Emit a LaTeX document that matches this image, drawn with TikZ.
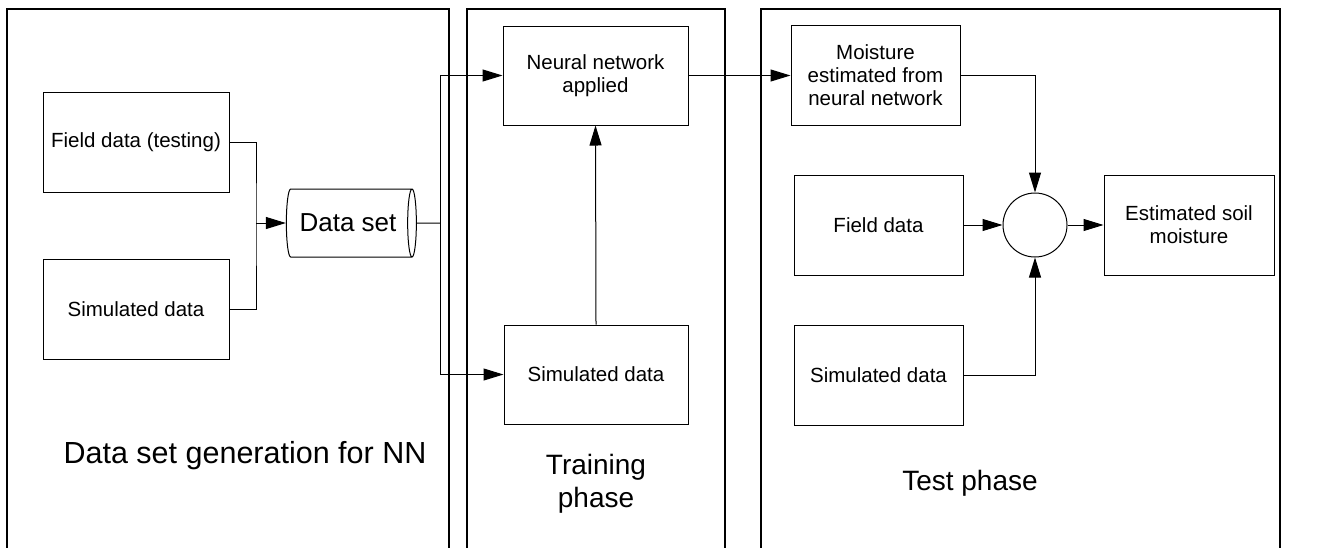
\documentclass[tikz,border=0pt]{standalone}
\usepackage{fontspec}
\setmainfont{Liberation Sans}
\usetikzlibrary{shapes,arrows.meta}
\tikzstyle{block} = [rectangle, draw, line width=1pt, align=center,
    font=\fontsize{20.5}{23}\selectfont, inner sep=2pt]
\tikzstyle{panel} = [draw, line width=2pt]
\tikzstyle{line} = [draw, line width=1pt, -{Triangle[length=20pt,width=12pt]}]
\tikzstyle{wire} = [draw, line width=1pt]
\tikzstyle{title} = [align=center, font=\fontsize{28}{33}\selectfont]

\begin{document}
\begin{tikzpicture}[x=1pt, y=-1pt, auto]
		\useasboundingbox (0,0) rectangle (1327,547);
		% the three phases
		\draw [panel] (7,9) rectangle (449,570);
		\draw [panel] (467,9) rectangle (725,570);
		\draw [panel] (761,9) rectangle (1280,570);

		% data set generation
		\node [block, minimum width=186pt, minimum height=100pt] (field) at (136,142) {Field data (testing)};
		\node [block, minimum width=186pt, minimum height=100pt] (simgen) at (136,309) {Simulated data};
		\node [cylinder, draw, line width=1pt, aspect=0.35, minimum width=68pt, minimum height=130pt,
			shape border rotate=0, font=\fontsize{26}{30}\selectfont] (dataset) at (348,223) {Data set};
		\node [title, font=\fontsize{30.5}{36}\selectfont] (gentitle) at (245,456) {Data set generation for NN};

		% training phase
		\node [block, minimum width=185pt, minimum height=99pt] (nn) at (595.5,75.5) {Neural network\\applied};
		\node [block, minimum width=184pt, minimum height=99pt] (simtrain) at (596,374.5) {Simulated data};
		\node [title] (traintitle) at (596,484) {Training\\phase};

		% test phase
		\node [block, minimum width=169pt, minimum height=100pt] (moist) at (875.5,75.5) {Moisture\\estimated from\\neural network};
		\node [block, minimum width=169pt, minimum height=100pt] (fieldtest) at (878.5,225) {Field data};
		\node [block, minimum width=169pt, minimum height=100pt] (simtest) at (878.5,375) {Simulated data};
		\node [circle, draw, line width=1pt, minimum size=64pt] (sum) at (1035,225) {};
		\node [block, minimum width=170pt, minimum height=100pt] (est) at (1189,225) {Estimated soil\\moisture};
		\node [title] (testtitle) at (970,483) {Test phase};

		\coordinate (join) at (256,223);
		\coordinate (split) at (440,223);

		\path [wire] (field.east) -| (join) |- (simgen.east);
		\path [line] (join) -- (dataset.west);
		\path [wire] (dataset.east) -- (split);
		\path [line] (split) |- (nn.west);
		\path [line] (split) |- (simtrain.west);
		\path [line] (simtrain.north) -- (nn.south);
		\path [line] (nn.east) -- (moist.west);
		\path [line] (moist.east) -| (sum.north);
		\path [line] (fieldtest.east) -- (sum.west);
		\path [line] (simtest.east) -| (sum.south);
		\path [line] (sum.east) -- (est.west);
	\end{tikzpicture}
\end{document}
